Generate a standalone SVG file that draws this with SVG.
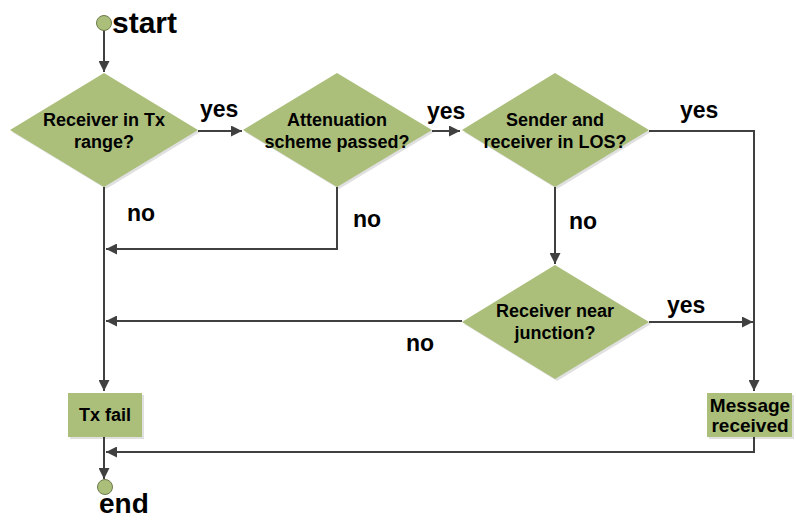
<svg xmlns="http://www.w3.org/2000/svg" width="796" height="520" viewBox="0 0 796 520">
<style>
.node{fill:#abbf7b;}
.shadow{fill:#000;opacity:0.12;}
.ln{fill:none;stroke:#404040;stroke-width:2;}
.t{font-family:"Liberation Sans",Arial,sans-serif;font-weight:bold;fill:#000;}
.nt{font-size:18px;text-anchor:middle;}
.mt{font-size:19px;text-anchor:middle;}
.lb{font-size:23px;}
.big{font-size:30px;}
.term{fill:#abbf7b;stroke:#6b7a4a;stroke-width:1;}
</style>
<defs>
<marker id="ah" viewBox="0 0 10 10" refX="10" refY="5" markerWidth="5.5" markerHeight="5.5" orient="auto" markerUnits="strokeWidth">
<path d="M0,0 L10,5 L0,10 z" fill="#404040"/>
</marker>
</defs>
<g id="connectors">
<path class="ln" d="M104,30 L104,72" marker-end="url(#ah)"/>
<path class="ln" d="M198,131 L242,131" marker-end="url(#ah)"/>
<path class="ln" d="M432,131 L460,131" marker-end="url(#ah)"/>
<path class="ln" d="M649,131 L754,131 L754,391" marker-end="url(#ah)"/>
<path class="ln" d="M555,187 L555,264" marker-end="url(#ah)"/>
<path class="ln" d="M649,322 L753,322" marker-end="url(#ah)"/>
<path class="ln" d="M462,321 L106,321" marker-end="url(#ah)"/>
<path class="ln" d="M337,187 L337,249 L106,249" marker-end="url(#ah)"/>
<path class="ln" d="M104,187 L104,391" marker-end="url(#ah)"/>
<path class="ln" d="M104,437 L104,479" marker-end="url(#ah)"/>
<path class="ln" d="M754,437 L754,452 L106,452" marker-end="url(#ah)"/>
</g>
<g id="start">
<circle class="term" cx="104" cy="23" r="7.5"/>
<text class="t big" x="112" y="33">start</text>
</g>
<g id="d1">
<polygon class="shadow" points="106,75 200,132 106,189 12,132"/>
<polygon class="node" points="104,73 198,130 104,187 10,130"/>
<text class="t nt" x="104" y="126">Receiver in Tx</text>
<text class="t nt" x="104" y="148">range?</text>
</g>
<g id="d2">
<polygon class="shadow" points="339,75 434,132 339,189 245,132"/>
<polygon class="node" points="337,73 432,130 337,187 243,130"/>
<text class="t nt" x="337" y="126">Attenuation</text>
<text class="t nt" x="337" y="148">scheme passed?</text>
</g>
<g id="d3">
<polygon class="shadow" points="557,75 651,132 557,189 464,132"/>
<polygon class="node" points="555,73 649,130 555,187 462,130"/>
<text class="t nt" x="555" y="126">Sender and</text>
<text class="t nt" x="555" y="148">receiver in LOS?</text>
</g>
<g id="d4">
<polygon class="shadow" points="557,267 651,324 557,381 464,324"/>
<polygon class="node" points="555,265 649,322 555,379 462,322"/>
<text class="t nt" x="555" y="317">Receiver near</text>
<text class="t nt" x="555" y="339">junction?</text>
</g>
<g id="txfail">
<rect class="shadow" x="70" y="395" width="74" height="44"/>
<rect class="node" x="68" y="393" width="74" height="44"/>
<text class="t nt" x="105" y="421">Tx fail</text>
</g>
<g id="msg">
<rect class="shadow" x="709" y="395" width="85" height="44"/>
<rect class="node" x="707" y="393" width="85" height="44"/>
<text class="t mt" x="750" y="412">Message</text>
<text class="t mt" x="750" y="432">received</text>
</g>
<g id="end">
<circle class="term" cx="105" cy="487" r="7.5"/>
<text class="t" style="font-size:28px" x="99" y="513">end</text>
</g>
<g id="labels">
<text class="t lb" x="200" y="117">yes</text>
<text class="t lb" x="427" y="119">yes</text>
<text class="t lb" x="680" y="118">yes</text>
<text class="t lb" x="667" y="313">yes</text>
<text class="t lb" x="127" y="221">no</text>
<text class="t lb" x="353" y="227">no</text>
<text class="t lb" x="569" y="229">no</text>
<text class="t lb" x="406" y="351">no</text>
</g>
</svg>
